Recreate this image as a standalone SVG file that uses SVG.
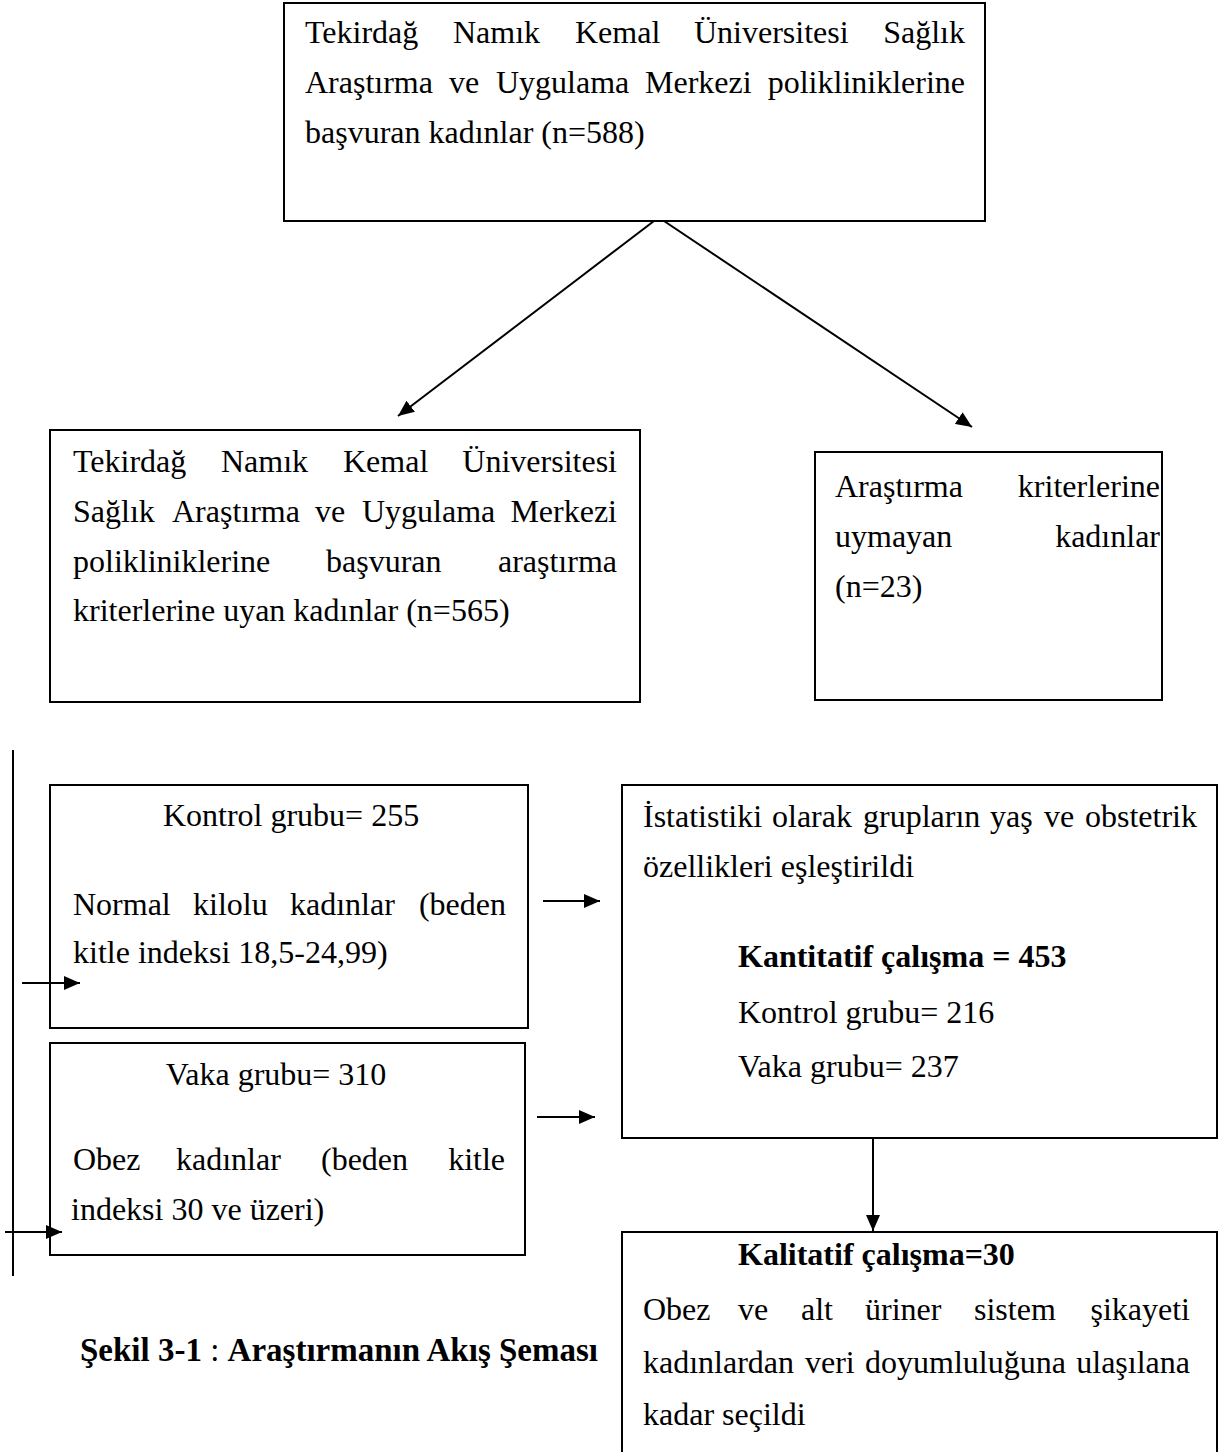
<svg xmlns="http://www.w3.org/2000/svg" width="1222" height="1452" viewBox="0 0 1222 1452">
<defs>
<style>
text{font-family:"Liberation Serif","Times New Roman",serif;font-size:32px;fill:#000}
.b{font-weight:bold}
.e{text-anchor:end}
.m{text-anchor:middle}
.cap{font-size:33px}
.box{fill:#fff;stroke:#000;stroke-width:2}
.ln{stroke:#000;stroke-width:2;fill:none}
</style>
<marker id="ah2" viewBox="0 0 16 14" refX="16" refY="7" markerWidth="16" markerHeight="14" markerUnits="userSpaceOnUse" orient="auto">
<path d="M0,0 L16,7 L0,14 z" fill="#000"/>
</marker>
</defs>
<rect width="1222" height="1452" fill="#fff"/>

<g id="n1">
<rect class="box" x="284" y="3" width="701" height="218"/>
<text x="305" y="43">Tekirdağ</text><text x="453" y="43">Namık</text><text x="575" y="43">Kemal</text><text x="694" y="43">Üniversitesi</text><text class="e" x="965" y="43">Sağlık</text>
<text x="305" y="93">Araştırma</text><text x="449" y="93">ve</text><text x="496" y="93">Uygulama</text><text x="645" y="93">Merkezi</text><text class="e" x="965" y="93">polikliniklerine</text>
<text x="305" y="143">başvuran kadınlar (n=588)</text>
</g>

<g id="n2">
<rect class="box" x="50" y="430" width="590" height="272"/>
<text x="73" y="472">Tekirdağ</text><text x="221" y="472">Namık</text><text x="343" y="472">Kemal</text><text class="e" x="617" y="472">Üniversitesi</text>
<text x="73" y="522">Sağlık</text><text x="172" y="522">Araştırma</text><text x="315" y="522">ve</text><text x="362" y="522">Uygulama</text><text class="e" x="617" y="522">Merkezi</text>
<text x="73" y="572">polikliniklerine</text><text x="326" y="572">başvuran</text><text class="e" x="617" y="572">araştırma</text>
<text x="73" y="621">kriterlerine uyan kadınlar (n=565)</text>
</g>

<g id="n3">
<rect class="box" x="815" y="452" width="347" height="248"/>
<text x="835" y="497">Araştırma</text><text class="e" x="1160" y="497">kriterlerine</text>
<text x="835" y="547">uymayan</text><text class="e" x="1160" y="547">kadınlar</text>
<text x="835" y="597">(n=23)</text>
</g>

<g id="n4">
<rect class="box" x="50" y="785" width="478" height="243"/>
<text class="m" x="291" y="826">Kontrol grubu= 255</text>
<text x="73" y="915">Normal</text><text x="193" y="915">kilolu</text><text x="290" y="915">kadınlar</text><text class="e" x="506" y="915">(beden</text>
<text x="73" y="963">kitle indeksi 18,5-24,99)</text>
</g>

<g id="n5">
<rect class="box" x="50" y="1043" width="475" height="212"/>
<text class="m" x="276" y="1085">Vaka grubu= 310</text>
<text x="73" y="1170">Obez</text><text x="176" y="1170">kadınlar</text><text x="321" y="1170">(beden</text><text class="e" x="505" y="1170">kitle</text>
<text x="71" y="1220">indeksi 30 ve üzeri)</text>
</g>

<g id="n6">
<rect class="box" x="622" y="785" width="595" height="353"/>
<text x="643" y="827">İstatistiki</text><text x="772" y="827">olarak</text><text x="863" y="827">grupların</text><text x="990" y="827">yaş</text><text x="1044" y="827">ve</text><text class="e" x="1197" y="827">obstetrik</text>
<text x="643" y="877">özellikleri eşleştirildi</text>
<text class="b" x="738" y="967">Kantitatif çalışma = 453</text>
<text x="738" y="1023">Kontrol grubu= 216</text>
<text x="738" y="1077">Vaka grubu= 237</text>
</g>

<g id="n7">
<rect class="box" x="622" y="1232" width="595" height="240"/>
<text class="b" x="738" y="1265">Kalitatif çalışma=30</text>
<text x="643" y="1320">Obez</text><text x="738" y="1320">ve</text><text x="801" y="1320">alt</text><text x="865" y="1320">üriner</text><text x="974" y="1320">sistem</text><text class="e" x="1190" y="1320">şikayeti</text>
<text x="643" y="1373">kadınlardan</text><text x="805" y="1373">veri</text><text x="865" y="1373">doyumluluğuna</text><text class="e" x="1190" y="1373">ulaşılana</text>
<text x="643" y="1425">kadar seçildi</text>
</g>

<g id="caption">
<text class="cap" x="80" y="1361"><tspan class="b">Şekil 3-1</tspan> : <tspan class="b">Araştırmanın Akış Şeması</tspan></text>
</g>

<g id="connectors">
<line class="ln" x1="654" y1="221" x2="398" y2="416" marker-end="url(#ah2)"/>
<line class="ln" x1="664" y1="221" x2="972" y2="427" marker-end="url(#ah2)"/>
<line class="ln" x1="13" y1="750" x2="13" y2="1276"/>
<line class="ln" x1="22" y1="983" x2="80" y2="983" marker-end="url(#ah2)"/>
<line class="ln" x1="5" y1="1232" x2="62" y2="1232" marker-end="url(#ah2)"/>
<line class="ln" x1="543" y1="901" x2="600" y2="901" marker-end="url(#ah2)"/>
<line class="ln" x1="537" y1="1117" x2="595" y2="1117" marker-end="url(#ah2)"/>
<line class="ln" x1="873" y1="1138" x2="873" y2="1231" marker-end="url(#ah2)"/>
</g>
</svg>
